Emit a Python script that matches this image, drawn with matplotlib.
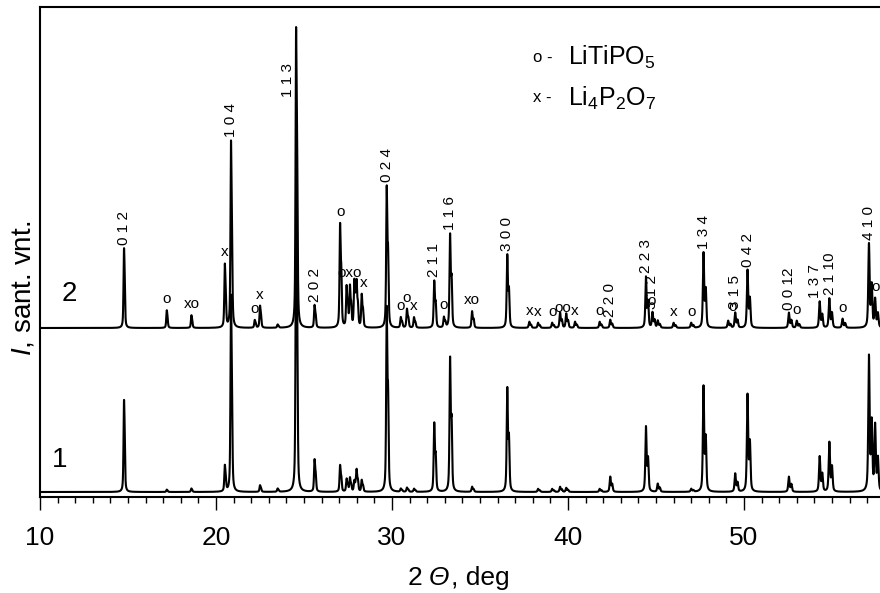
import numpy as np
import matplotlib
matplotlib.use("Agg")
import matplotlib.pyplot as plt
from matplotlib.ticker import MultipleLocator

plt.rcParams["font.family"] = ["Liberation Sans", "DejaVu Sans"]
plt.rcParams["mathtext.fontset"] = "custom"
plt.rcParams["mathtext.rm"] = "Liberation Sans"
plt.rcParams["mathtext.it"] = "Liberation Sans:italic"

# peak list of sample 1 (2theta, intensity in arbitrary units)
pos1 = [14.77, 17.2, 18.6, 20.5, 20.85, 22.5, 23.5, 24.55, 25.6, 27.05,
        27.42, 27.61, 27.86, 27.99, 28.28, 29.7, 30.5, 30.85, 31.25, 32.4,
        33.3, 34.55, 36.55, 38.3, 39.1, 39.55, 39.9, 41.8, 42.4, 44.43,
        45.1, 47.0, 47.7, 49.5, 50.2, 52.55, 54.3, 54.85, 57.1, 57.45]
int1 = [75, 2, 3, 23, 175, 6, 3, 290, 30, 25,
        12, 13, 10, 20, 11, 175, 3, 4, 3, 66,
        129, 5, 101, 3, 3, 5, 4, 3, 15, 64,
        8, 3, 104, 18, 96, 15, 35, 49, 134, 65]

# peak list of sample 2
pos2 = [14.77, 17.2, 18.6, 20.5, 20.85, 22.2, 22.5, 23.5, 24.55, 25.6,
        27.05, 27.42, 27.61, 27.86, 27.99, 28.28, 29.7, 30.5, 30.85, 31.25,
        32.4, 32.95, 33.3, 34.55, 36.55, 37.8, 38.3, 39.1, 39.55, 39.9,
        40.4, 41.8, 42.4, 44.43, 44.8, 45.1, 46.0, 47.0, 47.7, 49.1,
        49.5, 50.2, 52.55, 53.0, 54.3, 54.85, 55.6, 57.1, 57.45]
int2 = [65, 15, 11, 56, 166, 7, 20, 3, 275, 21,
        97, 38, 38, 43, 39, 31, 134, 10, 18, 10,
        45, 10, 90, 16, 71, 6, 5, 5, 15, 14,
        6, 6, 8, 50, 15, 7, 5, 5, 74, 7,
        15, 57, 15, 7, 26, 29, 9, 83, 28]

offset1 = 5
offset2 = 169

# Miller indices of the main phase (sample 2)
hkl_pos = [14.77, 20.85, 24.55, 25.6, 29.7, 32.4, 33.3, 36.55, 42.4, 44.43,
           44.8, 47.7, 49.5, 50.2, 52.55, 54.3, 54.85, 57.1]
hkl_txt = ["0 1 2", "1 0 4", "1 1 3", "2 0 2", "0 2 4", "2 1 1", "1 1 6",
           "3 0 0", "2 2 0", "2 2 3", "3 1 2", "1 3 4", "3 1 5", "0 4 2",
           "0 0 12", "1 3 7", "2 1 10", "4 1 0"]

# impurity phase markers: o - LiTiPO5, x - Li4P2O7
mark_pos = [17.2, 18.6, 20.5, 22.2, 22.5, 27.05, 27.6, 28.38,
            30.5, 30.85, 31.25, 32.95, 34.55, 37.8, 38.3, 39.1, 39.72, 40.4,
            41.8, 44.75, 46.0, 47.0, 49.35, 53.0, 55.6, 57.5]
mark_txt = ["o", "xo", "x", "o", "x", "o", "oxo", "x",
            "o", "o", "x", "o", "xo", "x", "x", "o", "oo", "x",
            "o", "o", "x", "o", "o", "o", "o", "o"]


def pattern(tt, pos, inten):
    y = np.zeros_like(tt)
    for p, h in zip(pos, inten):
        w = 0.055 + 0.0006 * p
        # Cu Ka1/Ka2 doublet
        d2 = np.degrees(2 * np.tan(np.radians(p / 2)) * 0.0025)
        for c, a in ((p, 1.0), (p + d2, 0.5)):
            lor = 1 / (1 + (2 * (tt - c) / w) ** 2)
            gau = np.exp(-4 * np.log(2) * ((tt - c) / w) ** 2)
            y += a * h * (0.55 * lor + 0.45 * gau)
    return y


tt = np.linspace(10, 60, 8000)
y1 = pattern(tt, pos1, int1) + offset1
y2 = pattern(tt, pos2, int2) + offset2

W, H = 880, 593
fig = plt.figure(figsize=(W / 100, H / 100), dpi=100)
ax = fig.add_axes([40 / W, (H - 497) / H, 880 / W, 490 / H])

ax.plot(tt, y1, color="black", lw=1.5)
ax.plot(tt, y2, color="black", lw=1.5)

ax.set_xlim(10, 60)
ax.set_ylim(0, 490)
ax.set_xticks([10, 20, 30, 40, 50, 60], ["10", "20", "30", "40", "50", ""])
ax.xaxis.set_minor_locator(MultipleLocator(1))
ax.tick_params(axis="x", which="major", direction="out", length=9, width=1,
               labelsize=19, pad=12)
ax.tick_params(axis="x", which="minor", direction="out", length=4.5, width=1)
ax.set_yticks([])
for s in ax.spines.values():
    s.set_linewidth(1.5)


def top_near(x0, half=0.12):
    m = (tt > x0 - half) & (tt < x0 + half)
    return y2[m].max()


# labels that sit beside their peak rather than on top of it
label_shift = {"1 1 3": -0.45, "1 3 7": -0.27, "2 1 10": 0.05}

for p, t in zip(hkl_pos, hkl_txt):
    x, yb = p + label_shift.get(t, 0), top_near(p, 0.06) + 3
    if t == "1 1 3":
        yb = 400
    ax.text(x, yb, t, rotation=90, ha="center", va="bottom", fontsize=11)

for p, t in zip(mark_pos, mark_txt):
    ax.text(p, top_near(p) + 11, t, ha="center", va="center", fontsize=11)

ax.text(11.65, 203, "2", fontsize=20, ha="center", va="center")
ax.text(11.14, 37, "1", fontsize=20, ha="center", va="center")

ax.text(38.0, 440, "o -", fontsize=12, va="center")
ax.text(40.0, 440, "LiTiPO$_5$", fontsize=18, va="center")
ax.text(38.0, 399, "x -", fontsize=12, va="center")
ax.text(40.0, 399, "Li$_4$P$_2$O$_7$", fontsize=18, va="center")

fig.text(24 / W, 1 - 288 / H, "$\\mathit{I}$, sant. vnt.", rotation=90,
         ha="center", va="center", fontsize=20)

# x label: "2 Θ, deg" with an italic Theta, laid out piece by piece
renderer = fig.canvas.get_renderer()
parts = [("2", "normal", 6), ("Θ", "italic", 2), (", deg", "normal", 0)]
pieces = []
total = 0
for s, style, gap in parts:
    t = fig.text(0, 1 - 578 / H, s, fontsize=19, style=style,
                 ha="left", va="center")
    wpx = t.get_window_extent(renderer=renderer).width
    pieces.append((t, total))
    total += wpx + gap
x0 = 459 - total / 2
for t, dx in pieces:
    t.set_x((x0 + dx) / W)

fig.savefig("out.png", dpi=100, facecolor="white")
